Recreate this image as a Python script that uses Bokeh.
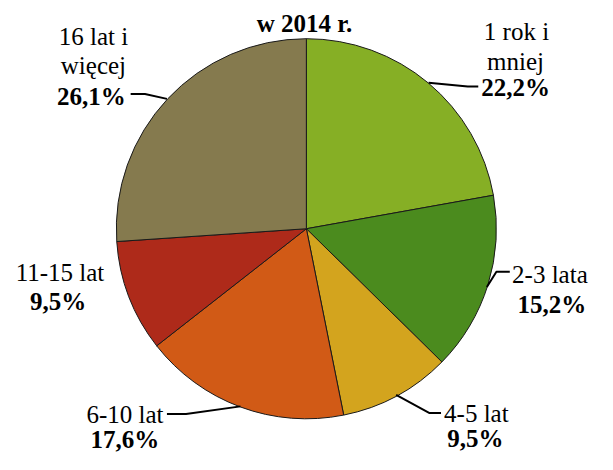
from bokeh.plotting import figure
from bokeh.models import Range1d, ColumnDataSource
from bokeh.core.properties import value
from bokeh.embed import file_html
from bokeh.resources import INLINE
import math

# ---- data ----
categories = ["1 rok i mniej", "2-3 lata", "4-5 lat", "6-10 lat", "11-15 lat", "16 lat i więcej"]
label_lines = [["1 rok i", "mniej"], ["2-3 lata"], ["4-5 lat"], ["6-10 lat"], ["11-15 lat"], ["16 lat i", "więcej"]]
shares = [22.2, 15.2, 9.5, 17.6, 9.5, 26.1]
colors = ["#86AF25", "#4B8B1E", "#D3A41E", "#D15A16", "#AE2A1A", "#857A4E"]
title_text = "w 2014 r."

W, H = 597, 454
S = 0.955      # reference-frame to canvas scale
OX = 6         # horizontal offset on canvas, px


def Y(py):
    return -py


p = figure(width=W, height=H, output_backend="svg", toolbar_location=None,
           x_range=Range1d(-OX / S, (W - OX) / S), y_range=Range1d(-H / S, 0),
           min_border=0, title=None)
p.axis.visible = False
p.grid.visible = False
p.outline_line_color = None
p.background_fill_color = "white"

cx, cy, r = 314, Y(239), 199
total = sum(shares)
starts, ends = [], []
acc = 0.0
for v in shares:
    starts.append(math.pi / 2 - 2 * math.pi * acc / total)
    acc += v
    ends.append(math.pi / 2 - 2 * math.pi * acc / total)

src = ColumnDataSource(dict(start=starts, end=ends, color=colors, cat=categories))
p.wedge(x=cx, y=cy, radius=r, start_angle="start", end_angle="end", direction="clock",
        fill_color="color", line_color="#1a1a1a", line_width=1, source=src)

# leader lines (reference-frame coords)
leaders = {
    0: [(442, 86), (483, 90), (494, 90)],
    1: [(503, 300), (513, 284), (527, 284)],
    2: [(408, 413), (443, 432), (455, 432)],
    3: [(245, 425), (188, 433), (168, 433)],
    5: [(168, 103), (145, 98), (130, 98)],
}
for i, pts in leaders.items():
    p.line([a for a, b in pts], [Y(b) for a, b in pts], line_color="black", line_width=2)

# label anchor positions (reference-frame coords): name lines then percent line
name_pos = [[(534, 32), (533, 64)], [(569, 287)], [(492, 432)], [(124, 433)], [(56, 285)], [(91, 38), (91, 68)]]
pct_pos = [(533, 91), (571, 318), (491, 459), (124, 460), (54, 315), (89, 100)]

font = value("'Liberation Serif', 'Times New Roman', 'DejaVu Serif', serif")
for i in range(len(shares)):
    for line, (px, py) in zip(label_lines[i], name_pos[i]):
        p.text(x=[px], y=[Y(py)], text=[line], text_font=font, text_font_size="25px",
               text_align="center", text_baseline="alphabetic", text_color="black")
    pct = f"{shares[i]:.1f}".replace(".", ",") + "%"
    px, py = pct_pos[i]
    p.text(x=[px], y=[Y(py)], text=[pct], text_font=font, text_font_size="25px",
           text_font_style="bold", text_align="center", text_baseline="alphabetic",
           text_color="black")

# title, kept fully inside the canvas just above the pie
p.text(x=[312], y=[Y(24)], text=[title_text], text_font=font, text_font_size="25px",
       text_font_style="bold", text_align="center", text_baseline="alphabetic",
       text_color="black")

open("out.html", "w").write(file_html(p, INLINE))
